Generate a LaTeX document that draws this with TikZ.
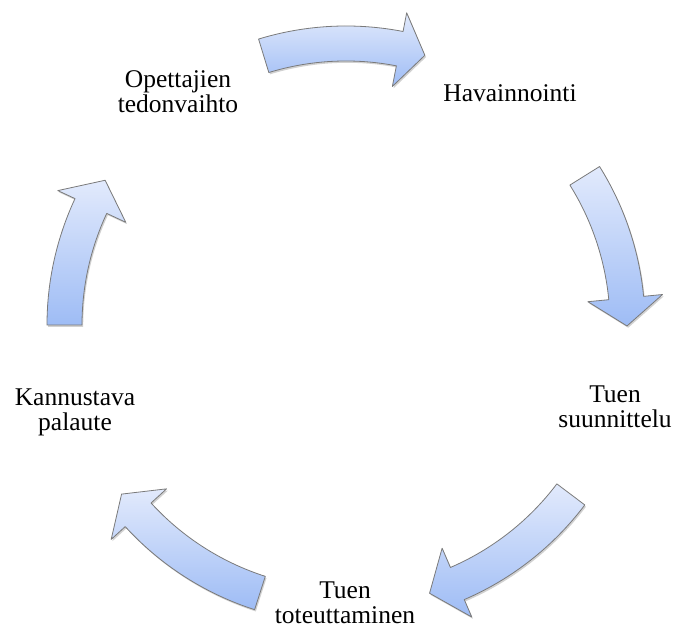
\documentclass[tikz,border=0pt]{standalone}
\usepackage{fontspec}
\setmainfont{Liberation Serif}
\definecolor{arrtop}{HTML}{E2EAFC}
\definecolor{arrbot}{HTML}{9EBCF5}
\definecolor{arredge}{HTML}{7A7A7A}
\tikzset{
  cycarr/.style={top color=arrtop, bottom color=arrbot, draw=arredge, line width=0.8pt, line join=round},
  cycshadow/.style={fill=black, opacity=0.18, draw=none},
  lbl/.style={align=center, font=\fontsize{25.5}{25}\selectfont, inner sep=0pt, text=black}
}
% #1 tail angle, #2 head base angle, #3 tip angle (degrees, around the cycle centre)
\newcommand\cyclearrow[3]{%
  \path[cycshadow, shift={(1.2,-1.8)}] (#1:299) arc[start angle=#1, end angle=#2, radius=299] -- (#2:318) -- (#3:281) -- (#2:243) -- (#2:264) arc[start angle=#2, end angle=#1, radius=264] -- cycle;
  \path[cycarr] (#1:299) arc[start angle=#1, end angle=#2, radius=299] -- (#2:318) -- (#3:281) -- (#2:243) -- (#2:264) arc[start angle=#2, end angle=#1, radius=264] -- cycle;}
\begin{document}
\begin{tikzpicture}[x=1pt, y=1pt]
  \useasboundingbox (0,0) rectangle (678,628);
  \coordinate (C) at (346,303);
  \begin{scope}[shift={(C)}]
    \cyclearrow{107}{79}{73.7}
    \cyclearrow{32}{5.5}{-0.2}
    \cyclearrow{-37}{-66.7}{-72.7}
    \cyclearrow{-107.8}{-137.6}{-143}
    \cyclearrow{-180}{-205}{-211}
  \end{scope}
  \node[lbl] (opet) at (178,536) {Opettajien\\tedonvaihto};
  \node[lbl] (hav) at (510,534.5) {Havainnointi};
  \node[lbl] (suun) at (615,221) {Tuen\\suunnittelu};
  \node[lbl] (tot) at (345,25.5) {Tuen\\toteuttaminen};
  \node[lbl] (pal) at (75,216) {Kannustava\\palaute};
\end{tikzpicture}
\end{document}
